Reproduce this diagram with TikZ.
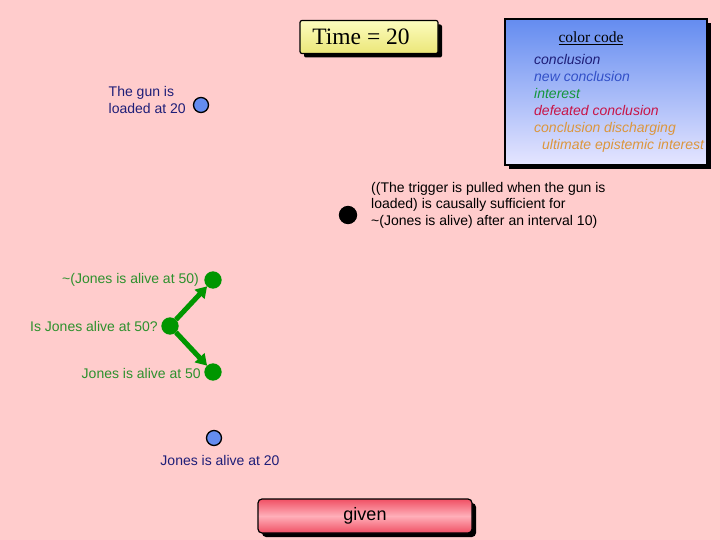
\documentclass[tikz,border=0pt]{standalone}
\usepackage{fontspec}
\setmainfont{Liberation Sans}
\newfontfamily\timesfont{Liberation Serif}
\usetikzlibrary{arrows.meta,shadows}
\definecolor{bgpink}{RGB}{255,204,204}
\definecolor{nodeblue}{RGB}{100,140,240}
\definecolor{nodegreen}{RGB}{0,150,0}
\definecolor{txtgreen}{RGB}{45,145,45}
\definecolor{txtnavy}{RGB}{30,30,120}
\definecolor{codeblue}{RGB}{50,80,200}
\definecolor{codegreen}{RGB}{20,150,60}
\definecolor{codered}{RGB}{200,20,70}
\definecolor{codeorange}{RGB}{220,150,60}
\definecolor{givenred}{RGB}{240,80,100}
\definecolor{givenpink}{RGB}{255,175,185}
\definecolor{timetop}{RGB}{252,252,190}
\definecolor{timebottom}{RGB}{235,230,120}

\begin{document}
\begin{tikzpicture}[x=1pt, y=-1pt,
  dot/.style={circle, draw=black, line width=1.3pt, minimum size=15pt, inner sep=0pt},
  conc/.style={dot, fill=nodeblue},
  goal/.style={dot, draw=nodegreen, fill=nodegreen, minimum size=16pt},
  link/.style={nodegreen, line width=5pt, -{Triangle[length=11pt,width=13pt]}},
  lbl/.style={font=\fontsize{14}{16.5}\selectfont, inner sep=0pt, align=left},
  box/.style={draw=black, line width=1.2pt, drop shadow={shadow xshift=4pt, shadow yshift=-4pt, opacity=1, fill=black}}]
% Background
\fill[bgpink] (0,0) rectangle (720,540);
\useasboundingbox (0,0) rectangle (720,540);

% Time box
\node[box, rounded corners=2pt, top color=timetop, bottom color=timebottom, minimum width=138pt, minimum height=33pt,
  font=\timesfont\fontsize{23.5}{25}\selectfont] (timebox) at (369,37) {Time = 20\kern16pt};

% Color code
\node[box, top color=nodeblue, bottom color=blue!10, minimum width=202pt, minimum height=146pt] (legend) at (606,92) {};
\node[font=\timesfont\fontsize{15.5}{17}\selectfont, inner sep=0pt] (legendtitle) at (591,38) {\underline{color code}};
\node[lbl, anchor=north west, font=\itshape\fontsize{14}{17}\selectfont] (legendtext) at (534,54)
  {\textcolor{txtnavy}{conclusion}\\
   \textcolor{codeblue}{new conclusion}\\
   \textcolor{codegreen}{interest}\\
   \textcolor{codered}{defeated conclusion}\\
   \textcolor{codeorange}{conclusion discharging}\\
   \textcolor{codeorange}{\hspace{8pt}ultimate epistemic interest}};

% Gun loaded
\node[conc] (gun) at (201,105) {};
\node[lbl, anchor=east, text=txtnavy] (gunlbl) at (186,100) {The gun is\\loaded at 20};

% Causal premise
\node[dot, fill=black, minimum size=17pt] (trigger) at (348,215) {};
\node[lbl, anchor=west] (triggerlbl) at (371,205) {((The trigger is pulled when the gun is\\loaded) is causally sufficient for\\\textasciitilde(Jones is alive) after an interval 10)};

% Interest branch
\node[goal] (notalive) at (213,280) {};
\node[lbl, anchor=east, text=txtgreen] (notalivelbl) at (199,280) {\textasciitilde(Jones is alive at 50)};
\node[goal] (query) at (170,326) {};
\node[lbl, anchor=east, text=txtgreen] (querylbl) at (158,326) {Is Jones alive at 50?};
\node[goal] (alive50) at (213,372) {};
\node[lbl, anchor=east, text=txtgreen] (alive50lbl) at (201,373) {Jones is alive at 50};

\draw[link] (query) -- (notalive);
\draw[link] (query) -- (alive50);

% Jones alive at 20
\node[conc] (alive20) at (214,438) {};
\node[lbl, text=txtnavy] (alive20lbl) at (220,460) {Jones is alive at 20};

% Given
\node[box, rounded corners=4pt, top color=givenred, bottom color=givenred, middle color=givenpink,
  minimum width=214pt, minimum height=34pt, font=\fontsize{18}{20}\selectfont] (given) at (365,516) {given};
\end{tikzpicture}
\end{document}
